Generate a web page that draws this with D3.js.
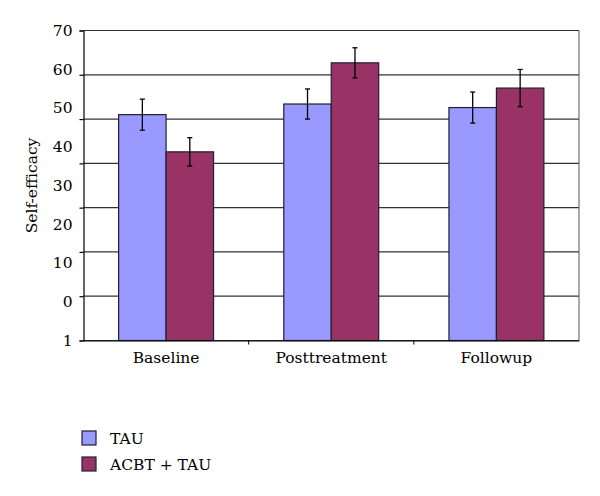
<!DOCTYPE html>
<html>
<head>
<meta charset="utf-8">
<script src="https://cdn.jsdelivr.net/npm/d3@7"></script>
<style>
  body { margin: 0; background: #fff; }
  text { font-family: "DejaVu Serif", serif; fill: #000; }
</style>
</head>
<body>
<div id="vis"></div>
<script>
// chart data
const CATEGORIES = ["Baseline", "Posttreatment", "Followup"];
const SERIES = ["TAU", "ACBT + TAU"];
const TAU_VALUES = [51.0, 53.4, 52.6];
const TAU_ERRORS = [3.5, 3.4, 3.5];
const ACBT_VALUES = [42.6, 62.7, 57.0];
const ACBT_ERRORS = [3.2, 3.4, 4.2];
const GRID_TICKS = [0, 10, 20, 30, 40, 50, 60, 70];
const TICK_LABELS = ["70", "60", "50", "40", "30", "20", "10", "0", "1"];

const FRAME_WIDTH = 600;
const FRAME_HEIGHT = 496;
const MARGINS = {left: 83.5, right: 21, top: 30.5, bottom: 155.5};
const VIS_WIDTH = FRAME_WIDTH - MARGINS.left - MARGINS.right;
const VIS_HEIGHT = FRAME_HEIGHT - MARGINS.top - MARGINS.bottom;
const COLORS = ["#9999ff", "#993366"];

const FRAME = d3.select("#vis")
                .append("svg")
                  .attr("width", FRAME_WIDTH)
                  .attr("height", FRAME_HEIGHT);

const PLOT = FRAME.append("g")
                  .attr("transform", "translate(" + MARGINS.left + "," + MARGINS.top + ")");

const X_SCALE = d3.scaleBand()
                  .domain(CATEGORIES)
                  .range([0, VIS_WIDTH]);

const X_INNER = d3.scaleBand()
                  .domain(SERIES)
                  .range([0, X_SCALE.bandwidth()])
                  .paddingOuter(0.74)
                  .paddingInner(0);

const Y_SCALE = d3.scaleLinear()
                  .domain([0, 70])
                  .range([VIS_HEIGHT, 0]);

// labels are spread evenly, as in the original
const Y_LABELS = d3.scalePoint()
                   .domain(TICK_LABELS)
                   .range([0, VIS_HEIGHT]);

// gridlines
PLOT.selectAll(".grid")
    .data(GRID_TICKS)
    .enter()
    .append("line")
      .attr("x1", 0)
      .attr("x2", VIS_WIDTH)
      .attr("y1", (d) => Y_SCALE(d))
      .attr("y2", (d) => Y_SCALE(d))
      .attr("stroke", "#333")
      .attr("stroke-width", 1.2);

// right border
PLOT.append("line")
    .attr("x1", VIS_WIDTH).attr("x2", VIS_WIDTH)
    .attr("y1", 0).attr("y2", VIS_HEIGHT)
    .attr("stroke", "#555")
    .attr("stroke-width", 1);

const rows = [];
CATEGORIES.forEach((c, i) => {
  rows.push({cat: c, s: 0, v: TAU_VALUES[i], e: TAU_ERRORS[i]});
  rows.push({cat: c, s: 1, v: ACBT_VALUES[i], e: ACBT_ERRORS[i]});
});

PLOT.selectAll(".bar")
    .data(rows)
    .enter()
    .append("rect")
      .attr("x", (d) => X_SCALE(d.cat) + X_INNER(SERIES[d.s]))
      .attr("y", (d) => Y_SCALE(d.v))
      .attr("width", X_INNER.bandwidth())
      .attr("height", (d) => VIS_HEIGHT - Y_SCALE(d.v))
      .attr("fill", (d) => COLORS[d.s])
      .attr("stroke", "#1f1f33")
      .attr("stroke-width", 1.2);

// error bars
const err = PLOT.selectAll(".err")
                .data(rows)
                .enter()
                .append("g")
                  .attr("transform", (d) => "translate(" + (X_SCALE(d.cat) + X_INNER(SERIES[d.s]) + X_INNER.bandwidth() / 2) + ",0)")
                  .attr("stroke", "#000")
                  .attr("stroke-width", 1.3);
err.append("line")
   .attr("y1", (d) => Y_SCALE(d.v + d.e))
   .attr("y2", (d) => Y_SCALE(d.v - d.e));
err.append("line")
   .attr("x1", -2.5).attr("x2", 2.5)
   .attr("y1", (d) => Y_SCALE(d.v + d.e))
   .attr("y2", (d) => Y_SCALE(d.v + d.e));
err.append("line")
   .attr("x1", -2.5).attr("x2", 2.5)
   .attr("y1", (d) => Y_SCALE(d.v - d.e))
   .attr("y2", (d) => Y_SCALE(d.v - d.e));

// y axis: ticks at gridlines
PLOT.append("g")
    .call(d3.axisLeft(Y_SCALE).tickValues(GRID_TICKS).tickSize(4).tickFormat(""))
    .call((g) => g.selectAll("path, line").attr("stroke", "#000").attr("stroke-width", 1.2));

PLOT.append("g")
    .selectAll("text")
    .data(TICK_LABELS)
    .enter()
    .append("text")
      .attr("x", -11)
      .attr("y", (d) => Y_LABELS(d))
      .attr("dy", "0.35em")
      .attr("text-anchor", "end")
      .attr("font-size", "15.5px")
      .text((d) => d);

// x axis
PLOT.append("g")
    .attr("transform", "translate(0," + VIS_HEIGHT + ")")
    .call(d3.axisBottom(X_SCALE).tickSize(0).tickPadding(11))
    .call((g) => g.select(".domain").attr("stroke", "#000").attr("stroke-width", 1.2))
    .call((g) => g.selectAll("text").attr("font-size", "15.5px").attr("font-family", "DejaVu Serif, serif"));

PLOT.selectAll(".xtick")
    .data(CATEGORIES.slice(1))
    .enter()
    .append("line")
      .attr("x1", (d) => X_SCALE(d)).attr("x2", (d) => X_SCALE(d))
      .attr("y1", VIS_HEIGHT).attr("y2", VIS_HEIGHT + 4)
      .attr("stroke", "#000");

// y title
FRAME.append("text")
     .attr("transform", "translate(37," + (MARGINS.top + VIS_HEIGHT / 2) + ") rotate(-90)")
     .attr("text-anchor", "middle")
     .attr("font-size", "15.5px")
     .text("Self-efficacy");

// legend
const legend = FRAME.selectAll(".legend")
                    .data(SERIES)
                    .enter()
                    .append("g")
                      .attr("transform", (d, i) => "translate(82," + (431 + i * 26) + ")");
legend.append("rect")
      .attr("width", 14).attr("height", 14)
      .attr("fill", (d, i) => COLORS[i])
      .attr("stroke", "#1f1f33")
      .attr("stroke-width", 1.2);
legend.append("text")
      .attr("x", 28).attr("y", 13)
      .attr("font-size", "15.5px")
      .text((d) => d);
</script>
</body>
</html>
